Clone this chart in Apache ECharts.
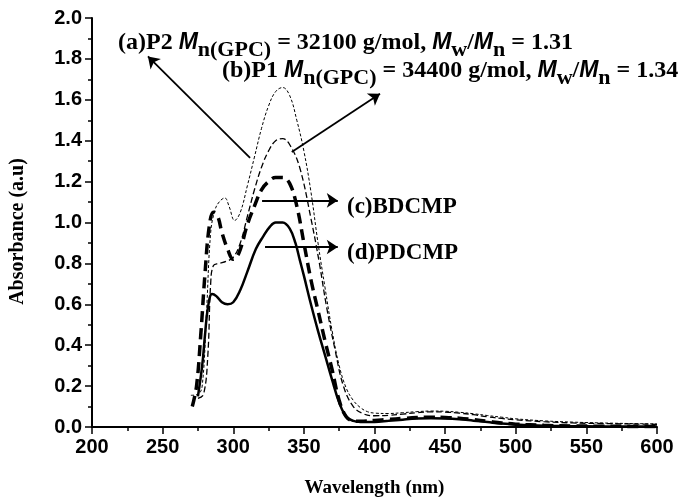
<!DOCTYPE html>
<html>
<head>
<meta charset="utf-8">
<script src="https://cdn.jsdelivr.net/npm/echarts@6/dist/echarts.min.js"></script>
<style>
  html, body { margin: 0; padding: 0; background: #fff; }
  #chart { width: 680px; height: 503px; }
</style>
</head>
<body>
<div id="chart"></div>
<script>
// (a) P2
var wlA = [270, 275, 278, 281, 284, 287, 290, 294, 297, 301, 305, 310, 315, 320, 325, 330, 335, 340, 345, 350, 355, 360, 365, 370, 375, 380, 385, 390, 395, 400, 410, 420, 430, 440, 450, 460, 470, 480, 490, 500, 520, 540, 560, 580, 600];
var absA = [0.155, 0.16, 0.2, 0.55, 0.95, 1.06, 1.1, 1.12, 1.08, 1.01, 1.05, 1.18, 1.32, 1.46, 1.57, 1.64, 1.66, 1.62, 1.5, 1.35, 1.15, 0.9, 0.68, 0.47, 0.3, 0.19, 0.13, 0.095, 0.075, 0.068, 0.066, 0.07, 0.075, 0.078, 0.077, 0.072, 0.065, 0.056, 0.048, 0.04, 0.03, 0.024, 0.02, 0.017, 0.015];
// (b) P1
var wlB = [275, 279, 282, 284, 286, 290, 295, 300, 305, 310, 315, 320, 325, 330, 335, 340, 347, 355, 361, 366, 372, 378, 385, 392, 400, 410, 420, 430, 440, 450, 460, 470, 480, 490, 500, 520, 540, 560, 580, 600];
var absB = [0.14, 0.16, 0.35, 0.7, 0.79, 0.8, 0.81, 0.83, 0.9, 1.03, 1.16, 1.27, 1.35, 1.4, 1.41, 1.38, 1.27, 1.02, 0.8, 0.59, 0.38, 0.2, 0.1, 0.065, 0.055, 0.057, 0.063, 0.07, 0.074, 0.073, 0.068, 0.06, 0.05, 0.042, 0.035, 0.026, 0.02, 0.017, 0.015, 0.013];
// (c) BDCMP
var wlC = [271, 274, 277, 280, 283, 286, 289, 292, 296, 300, 304, 310, 315, 320, 325, 330, 335, 340, 345, 350, 355, 360, 365, 370, 375, 380, 385, 390, 400, 410, 420, 430, 440, 450, 460, 470, 480, 490, 500, 520, 540, 560, 580, 600];
var absC = [0.1, 0.2, 0.45, 0.75, 0.98, 1.05, 1.03, 0.95, 0.87, 0.82, 0.85, 0.99, 1.08, 1.16, 1.2, 1.22, 1.22, 1.19, 1.08, 0.9, 0.72, 0.57, 0.42, 0.28, 0.13, 0.05, 0.03, 0.028, 0.032, 0.037, 0.042, 0.046, 0.048, 0.047, 0.043, 0.036, 0.028, 0.02, 0.014, 0.008, 0.005, 0.004, 0.003, 0.003];
// (d) PDCMP
var wlD = [275, 278, 280, 282, 285, 288, 292, 296, 300, 305, 310, 316, 321, 326, 330, 335, 340, 344, 347, 350, 355, 360, 365, 370, 375, 380, 385, 390, 400, 410, 420, 430, 440, 450, 460, 470, 480, 490, 500, 520, 540, 560, 580, 600];
var absD = [0.15, 0.3, 0.45, 0.58, 0.65, 0.64, 0.61, 0.6, 0.61, 0.67, 0.76, 0.87, 0.93, 0.98, 1.0, 1.0, 0.97, 0.9, 0.82, 0.74, 0.6, 0.47, 0.35, 0.23, 0.12, 0.05, 0.03, 0.025, 0.025, 0.03, 0.036, 0.041, 0.043, 0.042, 0.038, 0.031, 0.024, 0.017, 0.012, 0.006, 0.004, 0.003, 0.002, 0.002];

// arrows: [fromWl, fromAbs, toWl, toAbs]
var arrowA = [311.9, 1.316, 239.6, 1.812];
var arrowB = [341.4, 1.345, 403.9, 1.63];
var arrowC = [320.4, 1.108, 374, 1.108];
var arrowD = [322.5, 0.88, 374, 0.88];

function pairs(xs, ys) {
  var out = [];
  for (var i = 0; i < xs.length; i++) out.push([xs[i], ys[i]]);
  return out;
}
function arrow(a) {
  return [{ coord: [a[0], a[1]], symbol: 'none' }, { coord: [a[2], a[3]], symbol: 'arrow' }];
}

var serif = 'Liberation Serif';
var sans = 'Liberation Sans';
var rich = {
  t: { fontFamily: serif, fontWeight: 'bold', fontSize: 24, lineHeight: 24, verticalAlign: 'top', fill: '#000' },
  m: { fontFamily: sans, fontWeight: 'bold', fontStyle: 'italic', fontSize: 23, lineHeight: 24, verticalAlign: 'top', fill: '#000' },
  s: { fontFamily: serif, fontWeight: 'bold', fontSize: 22, lineHeight: 22, padding: [8, 0, 0, 0], verticalAlign: 'top', fill: '#000' }
};

const chart = echarts.init(document.getElementById('chart'), null, { width: 680, height: 503 });

var option = {
  animation: false,
  backgroundColor: '#fff',
  grid: { left: 92, right: 23, top: 18, bottom: 70 },
  xAxis: {
    type: 'value',
    min: 200, max: 600, interval: 50,
    name: 'Wavelength (nm)',
    nameLocation: 'middle',
    nameGap: 52,
    nameTextStyle: { fontFamily: serif, fontWeight: 'bold', fontSize: 19, color: '#000' },
    axisLine: { lineStyle: { color: '#000', width: 2 } },
    axisTick: { length: 7, lineStyle: { color: '#000', width: 1.5 } },
    minorTick: { show: true, splitNumber: 2, length: 4, lineStyle: { color: '#000', width: 1.5 } },
    axisLabel: { fontFamily: sans, fontWeight: 'bold', fontSize: 20, color: '#000', margin: 10 },
    splitLine: { show: false }
  },
  yAxis: {
    type: 'value',
    min: 0, max: 2, interval: 0.2,
    name: 'Absorbance (a.u)',
    nameLocation: 'middle',
    nameGap: 64,
    nameRotate: 90,
    nameTextStyle: { fontFamily: serif, fontWeight: 'bold', fontSize: 20, color: '#000', padding: [0, 18, 0, 0] },
    axisLine: { show: true, lineStyle: { color: '#000', width: 2 } },
    axisTick: { show: true, length: 7, lineStyle: { color: '#000', width: 1.5 } },
    minorTick: { show: true, splitNumber: 2, length: 4, lineStyle: { color: '#000', width: 1.5 } },
    axisLabel: {
      fontFamily: sans, fontWeight: 'bold', fontSize: 20, color: '#000', margin: 10,
      formatter: function (v) { return v.toFixed(1); }
    },
    splitLine: { show: false }
  },
  series: [
    {
      name: 'a', type: 'line', smooth: 0.4, showSymbol: false,
      data: pairs(wlA, absA),
      lineStyle: { color: '#000', width: 1, type: [3, 2] }
    },
    {
      name: 'b', type: 'line', smooth: 0.4, showSymbol: false,
      data: pairs(wlB, absB),
      lineStyle: { color: '#000', width: 1.3, type: [6, 3] }
    },
    {
      name: 'c', type: 'line', smooth: 0.4, showSymbol: false,
      data: pairs(wlC, absC),
      lineStyle: { color: '#000', width: 3.5, type: [11, 6] }
    },
    {
      name: 'd', type: 'line', smooth: 0.4, showSymbol: false,
      data: pairs(wlD, absD),
      lineStyle: { color: '#000', width: 2.5 },
      markLine: {
        silent: true,
        symbolSize: 11,
        label: { show: false },
        lineStyle: { color: '#000', width: 1.8, type: 'solid' },
        data: [arrow(arrowA), arrow(arrowB), arrow(arrowC), arrow(arrowD)]
      }
    }
  ],
  graphic: [
    {
      type: 'text', left: 118, top: 31,
      style: { text: '{t|(a)P2 }{m|M}{s|n(GPC)}{t| = 32100 g/mol, }{m|M}{s|w}{t|/}{m|M}{s|n}{t| = 1.31}', rich: rich }
    },
    {
      type: 'text', left: 222, top: 59,
      style: { text: '{t|(b)P1 }{m|M}{s|n(GPC)}{t| = 34400 g/mol, }{m|M}{s|w}{t|/}{m|M}{s|n}{t| = 1.34}', rich: rich }
    },
    {
      type: 'text', x: 347, y: 207,
      style: { text: '(c)BDCMP', fontFamily: serif, fontWeight: 'bold', fontSize: 23, fill: '#000', verticalAlign: 'middle' }
    },
    {
      type: 'text', x: 347, y: 253,
      style: { text: '(d)PDCMP', fontFamily: serif, fontWeight: 'bold', fontSize: 23, fill: '#000', verticalAlign: 'middle' }
    }
  ]
};

chart.setOption(option);
</script>
</body>
</html>
